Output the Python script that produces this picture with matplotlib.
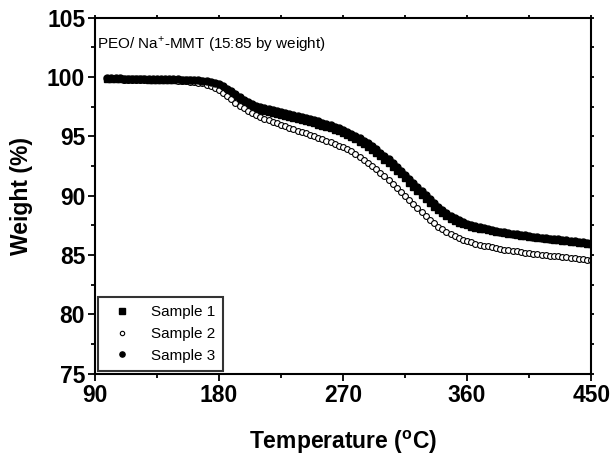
import numpy as np
import matplotlib
matplotlib.use("Agg")
import matplotlib.pyplot as plt

plt.rcParams['font.family'] = ['Liberation Sans', 'DejaVu Sans']
plt.rcParams['mathtext.fontset'] = 'custom'
plt.rcParams['mathtext.rm'] = 'Liberation Sans'
plt.rcParams['mathtext.bf'] = 'Liberation Sans:bold'

temperature = np.arange(99, 451, 3)

sample1 = [
    99.85, 99.85, 99.84, 99.84, 99.83, 99.83, 99.82, 99.82, 99.81, 99.81,
    99.80, 99.80, 99.79, 99.79, 99.78, 99.78, 99.77, 99.76, 99.75, 99.74,
    99.72, 99.70, 99.68, 99.65, 99.60, 99.52, 99.42, 99.30, 99.12, 98.90,
    98.65, 98.38, 98.12, 97.90, 97.70, 97.53, 97.38, 97.25, 97.14, 97.04,
    96.95, 96.87, 96.79, 96.71, 96.63, 96.55, 96.47, 96.38, 96.29, 96.20,
    96.10, 96.00, 95.90, 95.79, 95.68, 95.56, 95.43, 95.29, 95.13, 94.96,
    94.77, 94.57, 94.35, 94.12, 93.87, 93.61, 93.34, 93.06, 92.76, 92.45,
    92.13, 91.80, 91.46, 91.11, 90.76, 90.41, 90.06, 89.72, 89.39, 89.08,
    88.79, 88.52, 88.28, 88.07, 87.89, 87.74, 87.61, 87.50, 87.40, 87.32,
    87.24, 87.17, 87.10, 87.04, 86.98, 86.92, 86.86, 86.80, 86.75, 86.70,
    86.65, 86.60, 86.55, 86.50, 86.46, 86.42, 86.38, 86.34, 86.30, 86.26,
    86.22, 86.18, 86.14, 86.10, 86.06, 86.02, 85.98, 85.94,
]

sample2 = [
    99.82, 99.82, 99.81, 99.81, 99.80, 99.80, 99.79, 99.79, 99.78, 99.78,
    99.77, 99.77, 99.76, 99.75, 99.74, 99.73, 99.72, 99.70, 99.68, 99.66,
    99.63, 99.59, 99.54, 99.47, 99.38, 99.26, 99.10, 98.90, 98.66, 98.40,
    98.13, 97.86, 97.60, 97.36, 97.14, 96.95, 96.78, 96.63, 96.50, 96.36,
    96.23, 96.10, 95.98, 95.86, 95.74, 95.62, 95.50, 95.38, 95.26, 95.14,
    95.02, 94.90, 94.78, 94.65, 94.52, 94.38, 94.24, 94.10, 93.95, 93.74,
    93.52, 93.29, 93.05, 92.79, 92.52, 92.24, 91.95, 91.65, 91.34, 91.02,
    90.69, 90.35, 90.00, 89.65, 89.30, 88.95, 88.61, 88.28, 87.97, 87.68,
    87.41, 87.17, 86.95, 86.76, 86.59, 86.44, 86.31, 86.19, 86.08, 85.98,
    85.89, 85.81, 85.73, 85.66, 85.59, 85.53, 85.47, 85.41, 85.36, 85.31,
    85.26, 85.21, 85.17, 85.13, 85.09, 85.05, 85.01, 84.97, 84.93, 84.89,
    84.85, 84.81, 84.77, 84.73, 84.69, 84.65, 84.61, 84.58,
]

sample3 = [
    99.90, 99.90, 99.89, 99.89, 99.88, 99.88, 99.87, 99.87, 99.86, 99.86,
    99.85, 99.85, 99.84, 99.84, 99.83, 99.83, 99.82, 99.81, 99.80, 99.79,
    99.78, 99.76, 99.74, 99.71, 99.67, 99.60, 99.51, 99.40, 99.24, 99.04,
    98.81, 98.56, 98.31, 98.09, 97.90, 97.74, 97.60, 97.48, 97.38, 97.29,
    97.21, 97.13, 97.05, 96.97, 96.89, 96.81, 96.73, 96.64, 96.55, 96.46,
    96.37, 96.27, 96.17, 96.06, 95.95, 95.83, 95.70, 95.56, 95.41, 95.24,
    95.06, 94.86, 94.65, 94.42, 94.18, 93.92, 93.65, 93.37, 93.07, 92.76,
    92.44, 92.11, 91.77, 91.42, 91.07, 90.72, 90.37, 90.03, 89.70, 89.38,
    89.08, 88.80, 88.54, 88.31, 88.11, 87.94, 87.79, 87.66, 87.55, 87.45,
    87.36, 87.28, 87.20, 87.13, 87.06, 86.99, 86.93, 86.87, 86.81, 86.76,
    86.71, 86.66, 86.61, 86.56, 86.52, 86.48, 86.44, 86.40, 86.36, 86.32,
    86.28, 86.24, 86.20, 86.16, 86.12, 86.08, 86.04, 86.00,
]

labels = ["Sample 1", "Sample 2", "Sample 3"]
xticks = [90, 180, 270, 360, 450]
yticks = [75, 80, 85, 90, 95, 100, 105]

fig = plt.figure(figsize=(6.12, 4.57), dpi=100)
ax = fig.add_axes([0.155, 0.182, 0.811, 0.779])

ax.plot(temperature, sample1, linestyle='none', marker='s', markersize=5,
        color='black', label=labels[0])
ax.plot(temperature, sample2, linestyle='none', marker='o', markersize=4.2,
        markerfacecolor='white', markeredgecolor='black', markeredgewidth=0.8,
        label=labels[1])
ax.plot(temperature, sample3, linestyle='none', marker='o', markersize=5,
        color='black', label=labels[2])

ax.set_xlim(90, 450)
ax.set_ylim(75, 105)
ax.set_xticks(xticks)
ax.set_yticks(yticks)
ax.set_xticks([135, 225, 315, 405], minor=True)
ax.set_yticks([77.5, 82.5, 87.5, 92.5, 97.5, 102.5], minor=True)

for lab in ax.get_xticklabels() + ax.get_yticklabels():
    lab.set_fontweight('bold')
ax.tick_params(axis='both', which='major', direction='out', length=5, width=1.3,
               labelsize=16.5, pad=2)
ax.tick_params(axis='both', which='minor', direction='out', length=3, width=1.3)
ax.tick_params(axis='both', which='both', top=True, right=True)
ax.tick_params(axis='x', which='both', labeltop=False)
ax.tick_params(axis='y', which='both', labelright=False)
for t in ax.xaxis.get_major_ticks() + ax.xaxis.get_minor_ticks():
    t.tick2line.set_markersize(2)
for t in ax.yaxis.get_major_ticks() + ax.yaxis.get_minor_ticks():
    t.tick2line.set_markersize(2)

for s in ax.spines.values():
    s.set_linewidth(1.5)

ax.set_xlabel("Temperature ($\\mathbf{^{o}}$C)", fontsize=16.5, fontweight='bold', labelpad=16)
ax.set_ylabel("Weight (%)", fontsize=16.5, fontweight='bold', labelpad=10)

ax.text(0.004, 0.955, "PEO/ Na$^{+}$-MMT (15:85 by weight)", transform=ax.transAxes,
        fontsize=11, ha='left', va='top')

leg = ax.legend(loc='lower left', bbox_to_anchor=(0.006, 0.008), fontsize=11,
                frameon=True, fancybox=False, handletextpad=0.9,
                borderpad=0.55, labelspacing=0.5, handlelength=2.0,
                borderaxespad=0.0, markerscale=0.75)
leg.get_frame().set_edgecolor('black')
leg.get_frame().set_linewidth(1.5)

fig.savefig("out.png", dpi=100)
